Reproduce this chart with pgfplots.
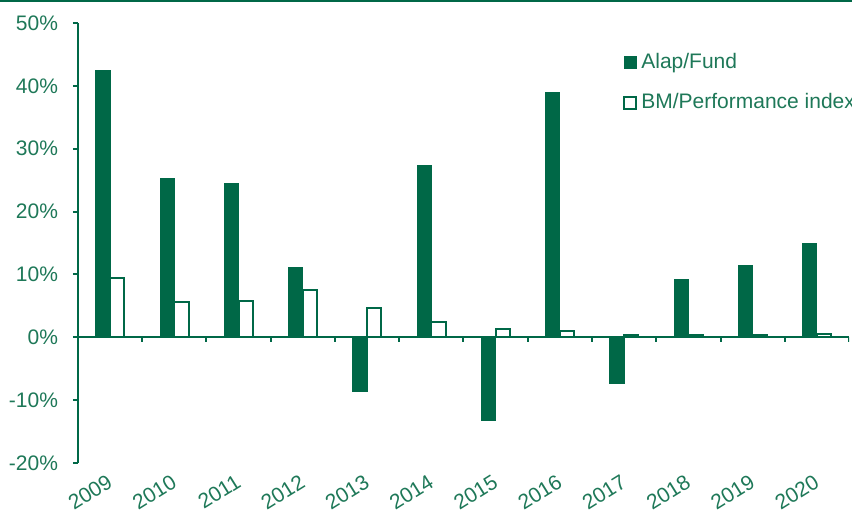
\documentclass[border=0pt]{standalone}
\usepackage{pgfplots}
\pgfplotsset{compat=1.18}
\usepackage{fontspec}
\setmainfont{Liberation Sans}
\definecolor{bargreen}{RGB}{0,104,71}
\definecolor{txtgreen}{RGB}{30,120,88}
\begin{document}
\begin{tikzpicture}
\useasboundingbox (-39pt,-26pt) rectangle (387pt,231.5pt);
\draw[bargreen, line width=1.2pt] (-39pt,230.9pt) -- (387pt,230.9pt);
\begin{axis}[
 at={(0,0)}, anchor=south west,
 scale only axis, width=385.5pt, height=220pt,
 xmin=-0.5, xmax=11.5, ymin=-20, ymax=50,
 axis y line*=left, axis x line*=bottom,
 x axis line style={draw=none},
 y axis line style={bargreen, line width=1pt},
 xtick={0,...,11},
 xticklabels={2009,2010,2011,2012,2013,2014,2015,2016,2017,2018,2019,2020},
 major x tick style={draw=none},
 ytick={-20,-10,0,10,20,30,40,50},
 yticklabels={-20\%,-10\%,0\%,10\%,20\%,30\%,40\%,50\%},
 major y tick style={bargreen, line width=1pt},
 tick align=outside, major tick length=2.5pt,
 ticklabel style={font=\fontsize{10.5}{12}\selectfont, text=txtgreen},
 yticklabel style={xshift=-4pt},
 xticklabel style={rotate=32, anchor=north east, yshift=0pt, xshift=-2pt, inner sep=1pt},
 ybar, bar width=0.22,
 legend style={draw=none, fill=none, at={(0.699,0.95)}, anchor=north west,
   font=\fontsize{10.5}{12}\selectfont, text=txtgreen, row sep=7pt,
   legend cell align=left},
 legend image code/.code={\draw[#1] (0pt,-3pt) rectangle (6pt,3pt);},
]
\addplot[fill=bargreen, draw=bargreen, line width=0.5pt, bar shift=-0.11] coordinates {
(0,42.5) (1,25.3) (2,24.5) (3,11.1) (4,-8.7) (5,27.3) (6,-13.2) (7,39.0) (8,-7.3) (9,9.2) (10,11.5) (11,15.0)};
\addlegendentry{Alap/Fund}
\addplot[fill=white, draw=bargreen, line width=1pt, bar shift=0.11] coordinates {
(0,9.4) (1,5.6) (2,5.8) (3,7.6) (4,4.7) (5,2.5) (6,1.3) (7,1.0) (8,0.3) (9,0.3) (10,0.3) (11,0.5)};
\addlegendentry{BM/Performance index}
\draw[bargreen, line width=1pt] (axis cs:-0.5,0) -- (axis cs:11.5,0);
\pgfplotsinvokeforeach{0.5,1.5,...,11.5}{\draw[bargreen, line width=1pt] (axis cs:#1,0) -- ++(0pt,-2.5pt);}
\end{axis}
\end{tikzpicture}
\end{document}
